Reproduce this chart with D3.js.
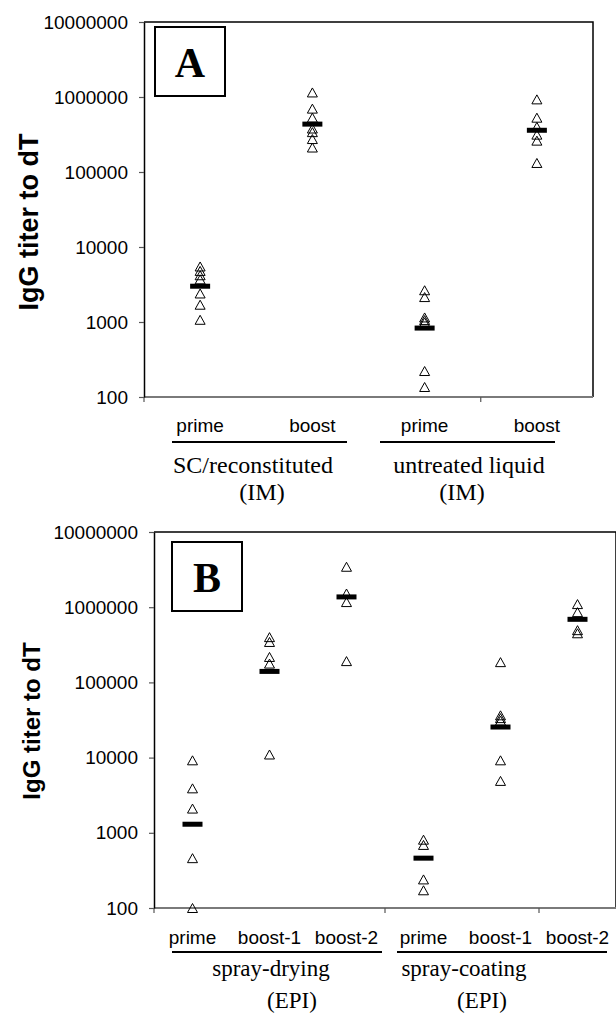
<!DOCTYPE html>
<html>
<head>
<meta charset="utf-8">
<script src="https://cdn.jsdelivr.net/npm/d3@7"></script>
<style>
  body { margin: 0; background: #fff; }
  svg { display: block; }
</style>
</head>
<body>
<div id="chart"></div>
<script>
// y axis (log) ticks, shared by both panels
var yTicks = [100, 1000, 10000, 100000, 1000000, 10000000];
var yTickLabels = ["100", "1000", "10000", "100000", "1000000", "10000000"];
var yTitle = "IgG titer to dT";

// Panel A
var catsA = ["prime", "boost", "prime", "boost"];
var groupsA = ["SC/reconstituted", "untreated liquid"];
var routeA = "(IM)";
var scPrime = [5500, 4800, 4200, 3700, 2400, 1700, 1070];
var scBoost = [1150000, 700000, 530000, 380000, 340000, 275000, 212000];
var liqPrime = [2650, 2150, 1150, 1060, 990, 222, 136];
var liqBoost = [930000, 530000, 400000, 315000, 262000, 132000];
var meansA = [3000, 435000, 830, 360000];

// Panel B
var catsB = ["prime", "boost-1", "boost-2", "prime", "boost-1", "boost-2"];
var groupsB = ["spray-drying", "spray-coating"];
var routeB = "(EPI)";
var dryPrime = [9200, 3900, 2100, 460, 100];
var dryBoost1 = [400000, 345000, 218000, 178000, 11000];
var dryBoost2 = [3450000, 1520000, 1170000, 192000];
var coatPrime = [810, 690, 240, 172];
var coatBoost1 = [186000, 36500, 33500, 31000, 9200, 4900];
var coatBoost2 = [1100000, 860000, 495000, 450000];
var meansB = [1300, 140000, 1370000, 460, 25500, 690000];

var svg = d3.select("#chart").append("svg")
  .attr("width", 616)
  .attr("height", 1015);

svg.append("rect").attr("width", 616).attr("height", 1015).attr("fill", "#fff");

// triangle centred on its bounding box, like spreadsheet markers
function triangle(w, h) {
  return "M0," + (-h / 2) + "L" + (w / 2) + "," + (h / 2) + "L" + (-w / 2) + "," + (h / 2) + "Z";
}

function drawPanel(p) {
  var g = svg.append("g");

  var y = d3.scaleLog().domain([100, 10000000]).range([p.bottom, p.top]);
  var x = d3.scaleBand().domain(d3.range(p.cats.length)).range([p.left, p.right]).padding(0);

  // frame (top, right)
  g.append("path")
    .attr("d", "M" + p.left + "," + p.top + "H" + p.right + "V" + p.bottom)
    .attr("fill", "none")
    .attr("stroke", "#000")
    .attr("stroke-width", 1.5);

  // bottom axis line (grey)
  g.append("line")
    .attr("x1", p.left).attr("x2", p.right)
    .attr("y1", p.bottom).attr("y2", p.bottom)
    .attr("stroke", "#7a7a7a")
    .attr("stroke-width", 1.8);

  // category boundary ticks
  p.tickAt.forEach(function (i) {
    var xx = i < p.cats.length ? x(i) : p.right;
    g.append("line")
      .attr("x1", xx).attr("x2", xx)
      .attr("y1", p.bottom).attr("y2", p.bottom + 5)
      .attr("stroke", "#555")
      .attr("stroke-width", 1.2);
  });

  // y axis
  var yAxis = g.append("g")
    .attr("transform", "translate(" + p.left + ",0)")
    .call(d3.axisLeft(y)
      .tickValues(yTicks)
      .tickFormat(function (d, i) { return yTickLabels[i]; })
      .tickSize(5)
      .tickSizeOuter(0)
      .tickPadding(11));
  yAxis.select(".domain").attr("stroke", "#000").attr("stroke-width", 1.5);
  yAxis.selectAll(".tick line").attr("stroke", "#555").attr("stroke-width", 1.2);
  yAxis.selectAll(".tick text")
    .attr("fill", "#000")
    .style("font-family", "'Liberation Sans', Arial, sans-serif")
    .style("font-size", "19px");

  // y axis title
  g.append("text")
    .attr("transform", "translate(" + p.titleX + "," + p.titleY + ") rotate(-90)")
    .attr("text-anchor", "middle")
    .attr("dy", "0.36em")
    .style("font-family", "'Liberation Sans', Arial, sans-serif")
    .style("font-weight", "bold")
    .style("font-size", p.titleSize + "px")
    .text(yTitle);

  // panel letter box
  g.append("rect")
    .attr("x", p.box[0]).attr("y", p.box[1])
    .attr("width", 70).attr("height", 69)
    .attr("fill", "#fff")
    .attr("stroke", "#000")
    .attr("stroke-width", 2);
  g.append("text")
    .attr("x", p.box[0] + 35).attr("y", p.box[1] + 50)
    .attr("text-anchor", "middle")
    .style("font-family", "'Liberation Serif', 'Times New Roman', serif")
    .style("font-weight", "bold")
    .style("font-size", "42px")
    .text(p.letter);

  // points
  p.series.forEach(function (vals, i) {
    g.selectAll(null)
      .data(vals)
      .enter()
      .append("path")
      .attr("d", triangle(10, 9))
      .attr("transform", function (d) {
        return "translate(" + (x(i) + x.bandwidth() / 2) + "," + y(d) + ")";
      })
      .attr("fill", "none")
      .attr("stroke", "#000")
      .attr("stroke-width", 1);
  });

  // mean bars
  g.selectAll(null)
    .data(p.means)
    .enter()
    .append("rect")
    .attr("x", function (d, i) { return x(i) + x.bandwidth() / 2 - 10; })
    .attr("y", function (d) { return y(d) - 2.5; })
    .attr("width", 20)
    .attr("height", 5)
    .attr("fill", "#000");

  // category labels
  g.selectAll(null)
    .data(p.cats)
    .enter()
    .append("text")
    .attr("x", function (d, i) { return x(i) + x.bandwidth() / 2; })
    .attr("y", p.catY)
    .attr("text-anchor", "middle")
    .style("font-family", "'Liberation Sans', Arial, sans-serif")
    .style("font-size", "19px")
    .text(function (d) { return d; });

  // group underlines and labels
  p.groups.forEach(function (name, i) {
    g.append("line")
      .attr("x1", p.lines[i][0]).attr("x2", p.lines[i][1])
      .attr("y1", p.lineY).attr("y2", p.lineY)
      .attr("stroke", "#000")
      .attr("stroke-width", 2);
    g.append("text")
      .attr("x", p.groupX[i]).attr("y", p.groupY)
      .attr("text-anchor", "middle")
      .style("font-family", "'Liberation Serif', 'Times New Roman', serif")
      .style("font-size", p.groupSize + "px")
      .text(name);
    g.append("text")
      .attr("x", p.routeX[i]).attr("y", p.routeY)
      .attr("text-anchor", "middle")
      .style("font-family", "'Liberation Serif', 'Times New Roman', serif")
      .style("font-size", p.groupSize + "px")
      .text(p.route);
  });
}

drawPanel({
  letter: "A",
  top: 22, bottom: 397, left: 144, right: 593,
  cats: catsA,
  series: [scPrime, scBoost, liqPrime, liqBoost],
  means: meansA,
  tickAt: [0, 3],
  titleX: 28, titleY: 222, titleSize: 27,
  box: [155, 27],
  catY: 432,
  groups: groupsA, route: routeA,
  lines: [[172, 347], [380, 555]], lineY: 442,
  groupX: [253, 469], groupY: 473,
  routeX: [262, 462], routeY: 500,
  groupSize: 24
});

drawPanel({
  letter: "B",
  top: 532, bottom: 908, left: 154, right: 616,
  cats: catsB,
  series: [dryPrime, dryBoost1, dryBoost2, coatPrime, coatBoost1, coatBoost2],
  means: meansB,
  tickAt: [0, 3, 5],
  titleX: 31, titleY: 721, titleSize: 24,
  box: [172, 542],
  catY: 944,
  groups: groupsB, route: routeB,
  lines: [[172, 382], [397, 607]], lineY: 952,
  groupX: [271, 464], groupY: 976,
  routeX: [292, 482], routeY: 1008,
  groupSize: 23
});
</script>
</body>
</html>
